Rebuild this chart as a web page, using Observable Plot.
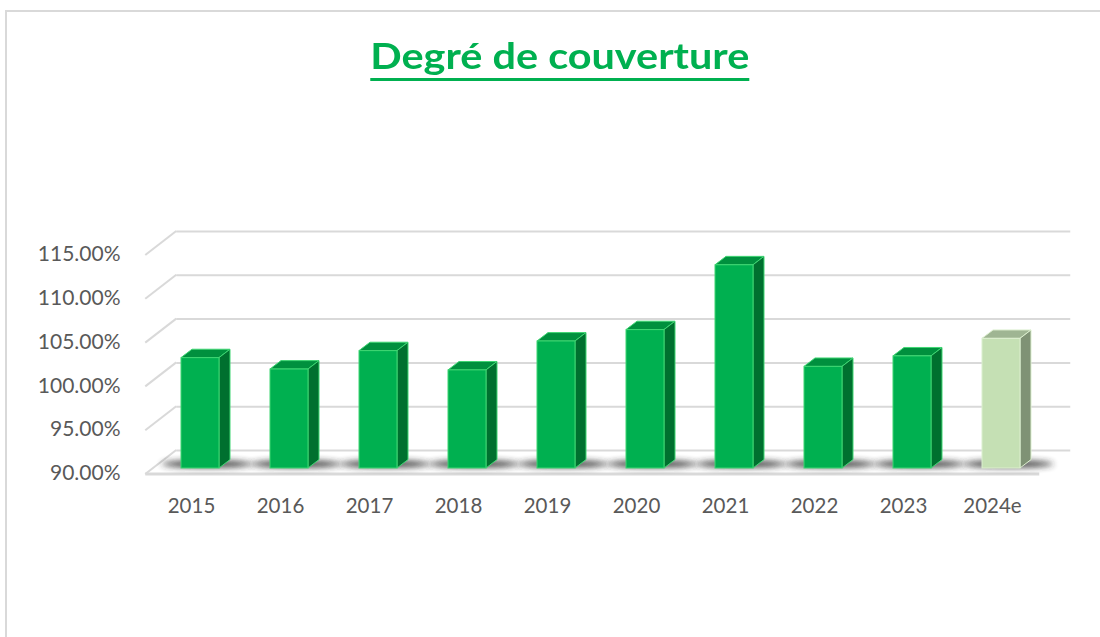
<!DOCTYPE html>
<html>
<head>
<meta charset="utf-8">
<script src="https://cdn.jsdelivr.net/npm/d3@7"></script>
<script src="https://cdn.jsdelivr.net/npm/@observablehq/plot@0.6"></script>
<style>
  body { margin: 0; background: #fff; font-family: Lato, sans-serif; }
  #frame { position: absolute; left: 5px; top: 10px; width: 1200px; height: 800px;
           border-top: 2px solid #d9d9d9; border-left: 2px solid #d9d9d9; pointer-events: none; }
  #title { height: 110px; box-sizing: border-box; padding-top: 37px; text-align: center; }
  #title span { display: inline-block; position: relative; left: 10px; transform: scaleX(1.15);
                font: bold 36px/36px Lato, sans-serif; color: #00b050;
                text-decoration: underline; text-decoration-thickness: 2.5px; text-underline-offset: 9px; }
  #chart svg { display: block; }
</style>
</head>
<body>
<div id="frame"></div>
<div id="title"><span>Degré de couverture</span></div>
<div id="chart"></div>
<script>
// ---- data ----
const years = ["2015", "2016", "2017", "2018", "2019", "2020", "2021", "2022", "2023", "2024e"];
const coverage = [102.6, 101.3, 103.4, 101.2, 104.5, 105.8, 113.2, 101.6, 102.8, 104.8];
const estimated = [false, false, false, false, false, false, false, false, false, true];
const yTicks = [90, 95, 100, 105, 110, 115];
const baseline = 90;

const data = years.map((year, i) => ({year, value: coverage[i], estimate: estimated[i]}));

// ---- styles ----
const palette = {
  actual:   {front: "#00b050", top: "#00903e", side: "#00702f", edge: "#3fd673"},
  estimate: {front: "#c5e0b4", top: "#9fb593", side: "#7f9275", edge: "#dcefcf"}
};
const pal = d => d.estimate ? palette.estimate : palette.actual;
const gridColor = "#d9d9d9";
const toFront = [-7.75, 6];     // bar plane -> front edge of floor
const toBack = [23.25, -18];    // bar plane -> back wall
const barDepth = [11, -8.4];    // extrusion of each column

// walls (slanted side lines) and front floor edge
function wallsAndFloor(index, scales, values, dims) {
  const {y} = scales;
  const l = dims.marginLeft, r = dims.width - dims.marginRight;
  const g = d3.create("svg:g").attr("fill", "none").attr("stroke", gridColor).attr("stroke-width", 2);
  for (const t of yTicks) {
    g.append("line")
      .attr("x1", l + toFront[0]).attr("y1", y(t) + toFront[1])
      .attr("x2", l + toBack[0]).attr("y2", y(t) + toBack[1]);
  }
  g.append("line")
    .attr("x1", l + toFront[0]).attr("x2", r + toFront[0])
    .attr("y1", y(baseline) + toFront[1]).attr("y2", y(baseline) + toFront[1])
    .attr("stroke-width", 3);
  return g.node();
}

// blurred floor shadows
function shadows(index, scales) {
  const {x, y} = scales;
  const bw = x.bandwidth();
  const g = d3.create("svg:g");
  g.append("defs").append("filter").attr("id", "shadowBlur")
    .attr("x", "-50%").attr("y", "-200%").attr("width", "200%").attr("height", "500%")
    .append("feGaussianBlur").attr("stdDeviation", 3);
  for (const d of data) {
    g.append("ellipse")
      .attr("cx", x(d.year) + bw / 2 + 7)
      .attr("cy", y(baseline) - 4)
      .attr("rx", bw * 1.2)
      .attr("ry", 3.5)
      .attr("fill", "#2a2a2a")
      .attr("opacity", 0.9)
      .attr("filter", "url(#shadowBlur)");
  }
  return g.node();
}

// top and side faces of each column
function prisms(index, scales) {
  const {x, y} = scales;
  const bw = x.bandwidth();
  const [ex, ey] = barDepth;
  const g = d3.create("svg:g").attr("stroke-width", 1).attr("stroke-linejoin", "round");
  for (const d of data) {
    const c = pal(d);
    const x0 = x(d.year), x1 = x0 + bw;
    const yt = y(d.value), yb = y(baseline);
    g.append("path")
      .attr("d", `M${x0},${yt}L${x0 + ex},${yt + ey}L${x1 + ex},${yt + ey}L${x1},${yt}Z`)
      .attr("fill", c.top).attr("stroke", c.edge);
    g.append("path")
      .attr("d", `M${x1},${yt}L${x1 + ex},${yt + ey}L${x1 + ex},${yb + ey}L${x1},${yb}Z`)
      .attr("fill", c.side).attr("stroke", c.edge);
  }
  return g.node();
}

const chart = Plot.plot({
  width: 1100,
  height: 527,
  marginLeft: 153,
  marginRight: 53,
  marginTop: 139,
  marginBottom: 169,
  style: {fontFamily: "Lato, sans-serif", fontSize: "20px", color: "#595959", background: "transparent", overflow: "visible"},
  x: {domain: years, paddingInner: 0.575, paddingOuter: 0.2875, align: 0.5},
  y: {domain: [90, 115]},
  marks: [
    Plot.ruleY(yTicks, {dx: toBack[0], dy: toBack[1], stroke: gridColor, strokeWidth: 2}),
    wallsAndFloor,
    shadows,
    prisms,
    Plot.barY(data, {
      x: "year",
      y1: () => baseline,
      y2: "value",
      fill: d => pal(d).front,
      stroke: d => pal(d).edge,
      strokeWidth: 1
    }),
    Plot.axisY(yTicks, {tickSize: 0, tickPadding: 33, dy: 5, label: null, fontSize: 21,
                        tickFormat: d => d.toFixed(2) + "%"}),
    Plot.axisX({tickSize: 0, tickPadding: 30, dx: -9, label: null, fontSize: 20.5})
  ]
});
document.getElementById("chart").append(chart);
</script>
</body>
</html>
